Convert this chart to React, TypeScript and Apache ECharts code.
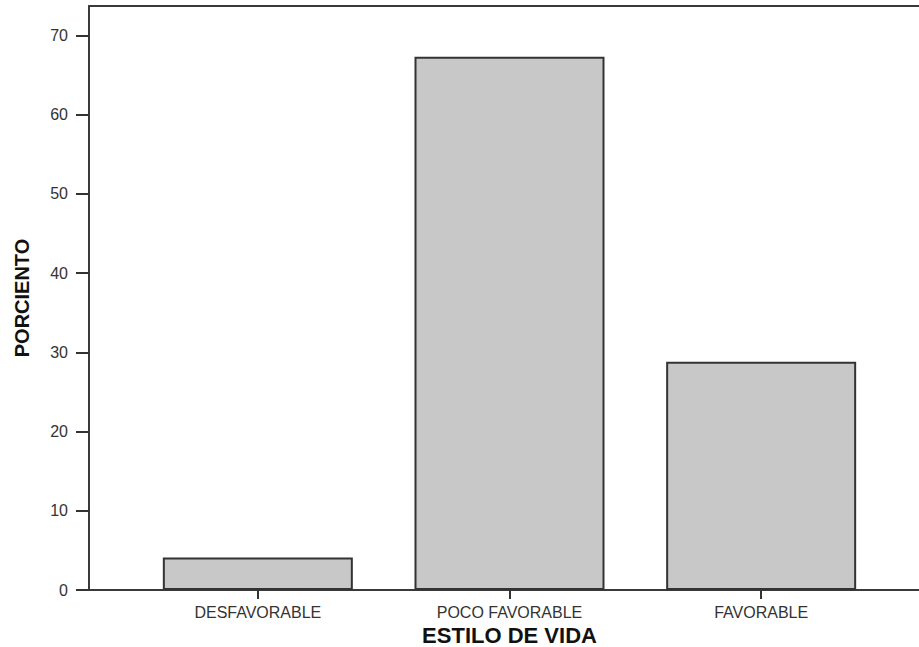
import React, { useEffect, useRef } from "react";
import * as echarts from "echarts";

const categories = ["DESFAVORABLE", "POCO FAVORABLE", "FAVORABLE"];
const values = [4.1, 67.3, 28.8];
const yTicks = [0, 10, 20, 30, 40, 50, 60, 70];
const xTitle = "ESTILO DE VIDA";
const yTitle = "PORCIENTO";

export default function App() {
  const ref = useRef<HTMLDivElement>(null);
  useEffect(() => {
    if (!ref.current) return;
    const chart = echarts.init(ref.current, null, { renderer: "svg" });
    const font = "'Liberation Sans', Arial, sans-serif";
    const frameLine = { show: true, lineStyle: { color: "#3a3a3a", width: 2 } };
    const frameAxis = {
      type: "value",
      gridIndex: 1,
      min: 0,
      max: 1,
      axisLine: frameLine,
      axisTick: { show: false },
      axisLabel: { show: false },
      splitLine: { show: false },
    };
    chart.setOption({
      animation: false,
      backgroundColor: "#ffffff",
      grid: [
        {
          left: 132,
          right: 32,
          top: 6,
          bottom: 57,
          show: false,
          containLabel: false,
          outerBoundsMode: "none",
        },
        {
          left: 89,
          right: 0,
          top: 6,
          bottom: 57,
          show: false,
          containLabel: false,
          outerBoundsMode: "none",
        },
      ],
      xAxis: [
        {
          type: "category",
          gridIndex: 0,
          data: categories,
          axisLine: { show: false },
          axisTick: {
            show: true,
            alignWithLabel: true,
            length: 9,
            lineStyle: { color: "#333", width: 2 },
          },
          axisLabel: {
            color: "#333",
            fontFamily: font,
            fontSize: 16,
            margin: 14,
          },
          name: xTitle,
          nameLocation: "middle",
          nameGap: 34,
          nameTextStyle: {
            color: "#111",
            fontFamily: font,
            fontWeight: "bold",
            fontSize: 22,
          },
        },
        { ...frameAxis, position: "bottom" },
        { ...frameAxis, position: "top" },
      ],
      yAxis: [
        {
          type: "value",
          gridIndex: 0,
          min: 0,
          max: 73.7,
          interval: 10,
          offset: 43,
          axisLine: { show: false },
          splitLine: { show: false },
          axisTick: {
            show: true,
            length: 13,
            customValues: yTicks,
            lineStyle: { color: "#333", width: 2 },
          },
          axisLabel: {
            color: "#333",
            fontFamily: font,
            fontSize: 16,
            margin: 21,
            customValues: yTicks,
          },
          name: yTitle,
          nameLocation: "middle",
          nameGap: 57,
          nameRotate: 90,
          nameTextStyle: {
            color: "#111",
            fontFamily: font,
            fontWeight: "bold",
            fontSize: 20,
          },
        },
        { ...frameAxis, position: "left" },
      ],
      series: [
        {
          type: "bar",
          xAxisIndex: 0,
          yAxisIndex: 0,
          data: values,
          barWidth: 190,
          itemStyle: {
            color: "#c8c8c8",
            borderColor: "#333",
            borderWidth: 2,
          },
          z: 3,
        },
      ],
    });
    return () => chart.dispose();
  }, []);
  return (
    <div
      ref={ref}
      style={{ position: "fixed", left: 0, top: 0, width: 919, height: 647 }}
    />
  );
}
